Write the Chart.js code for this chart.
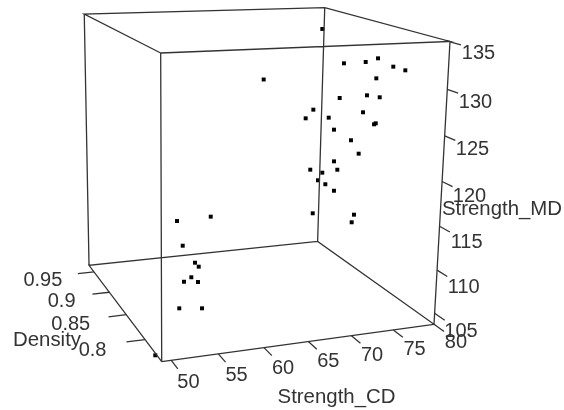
<!DOCTYPE html>
<html>
<head>
<meta charset="utf-8">
<script src="https://cdn.jsdelivr.net/npm/chart.js@4"></script>
<style>
    html, body { margin: 0; padding: 0; background: #fff; }
    canvas { display: block; }
</style>
</head>
<body>
<canvas id="chart" width="564" height="410"></canvas>
<script>
// values
var strengthCD = [66.61, 75.13, 75.95, 77.23, 78.00, 78.38, 79.08, 77.89, 76.27, 77.56, 77.64, 74.27, 73.30, 74.93, 77.14, 77.28, 77.07, 74.96, 75.74, 76.04, 74.39, 73.42, 74.85, 74.32, 73.79, 74.07, 74.51, 73.23, 75.74, 75.48, 55.80, 58.78, 56.00, 56.96, 57.40, 56.04, 55.19, 56.82, 53.70, 56.29, 48.79];
var strengthMD = [128.61, 133.78, 130.33, 130.90, 131.52, 131.03, 130.83, 129.23, 125.93, 127.01, 127.33, 124.05, 123.04, 123.63, 125.04, 124.35, 124.25, 122.49, 121.82, 120.55, 119.05, 117.01, 118.00, 116.94, 116.04, 115.91, 115.47, 111.97, 113.27, 112.37, 113.07, 114.17, 110.57, 108.93, 108.41, 107.81, 107.38, 107.16, 105.52, 105.20, 103.79];
// density cannot be read exactly from a 3d view, these are estimates
var density = [.88, .90, .87, .85, .84, .82, .81, .84, .88, .85, .83, .90, .90, .88, .85, .83, .83, .87, .85, .84, .86, .89, .86, .88, .88, .87, .86, .88, .84, .84, .87, .85, .86, .85, .85, .84, .84, .84, .82, .82, .77];

var cdTicks = [50, 55, 60, 65, 70, 75, 80];
var densityTicks = [0.8, 0.85, 0.9, 0.95];
var mdTicks = [105, 110, 115, 120, 125, 130, 135];

var cdRange = [49, 80];
var densityRange = [0.7597, 0.9675];
var mdRange = [103.7, 135.05];

// camera of the 3d box, fitted on its corners
function project(cd, d, md) {
    var u = (cd - cdRange[0]) / (cdRange[1] - cdRange[0]);
    var v = (d - densityRange[0]) / (densityRange[1] - densityRange[0]);
    var w = (md - mdRange[0]) / (mdRange[1] - mdRange[0]);
    var k = 1 + 0.094 * u + 0.239 * v - 0.064 * w;
    return {
        x: (161.7 + 313.1 * u - 51.4 * v - 11.3 * w) / k,
        y: (361.7 - 6.9 * u - 33 * v - 312.1 * w) / k
    };
}

var gap = { x: NaN, y: NaN };

// box edges
var cd0 = cdRange[0], cd1 = cdRange[1];
var d0 = densityRange[0], d1 = densityRange[1];
var md0 = mdRange[0], md1 = mdRange[1];
var boxLines = [
    project(cd0, d0, md0), project(cd1, d0, md0), project(cd1, d1, md0), project(cd0, d1, md0), project(cd0, d0, md0), gap,
    project(cd0, d0, md1), project(cd1, d0, md1), project(cd1, d1, md1), project(cd0, d1, md1), project(cd0, d0, md1), gap,
    project(cd0, d0, md0), project(cd0, d0, md1), gap,
    project(cd1, d0, md0), project(cd1, d0, md1), gap,
    project(cd1, d1, md0), project(cd1, d1, md1), gap,
    project(cd0, d1, md0), project(cd0, d1, md1)
];

// tick marks and their labels
var tickLines = [];
var tickLabels = [];

cdTicks.forEach(function (t) {
    tickLines.push(project(t, d0, md0), project(t, d0 - 0.0145, md0), gap);
    var p = project(t, d0 - 0.035, md0);
    // labels drift a little left of the projected spot towards 80
    tickLabels.push({ text: String(t), x: p.x + 1 - (t - 50) * 0.13, y: p.y + 1, align: 'center' });
});
densityTicks.forEach(function (t) {
    tickLines.push(project(cd0, t, md0), project(cd0 - 2, t, md0), gap);
    var p = project(cd0 - 5.6, t, md0);
    tickLabels.push({ text: String(t), x: p.x + 14, y: p.y + 4, align: 'right' });
});
mdTicks.forEach(function (t) {
    tickLines.push(project(cd1, d0, t), project(cd1, d0 - 0.0145, t), gap);
    var p = project(cd1, d0 - 0.035, t);
    tickLabels.push({ text: String(t), x: p.x + 1.5, y: p.y + 1 + (t - 105) * 0.1, align: 'center' });
});

var axisTitles = [
    { text: 'Strength_CD', x: 336.5, y: 397 },
    { text: 'Density', x: 47, y: 340 },
    { text: 'Strength_MD', x: 502, y: 209.5 }
];

var points = strengthCD.map(function (cd, i) {
    return project(cd, density[i], strengthMD[i]);
});

// chart.js has no text marks, so write them through the scales
var textPlugin = {
    id: 'textMarks',
    afterDatasetsDraw: function (chart) {
        var ctx = chart.ctx;
        var sx = chart.scales.x, sy = chart.scales.y;
        ctx.save();
        ctx.fillStyle = '#333';
        ctx.textBaseline = 'middle';
        ctx.font = '20px "Liberation Sans"';
        tickLabels.forEach(function (l) {
            ctx.textAlign = l.align;
            ctx.fillText(l.text, sx.getPixelForValue(l.x), sy.getPixelForValue(l.y));
        });
        ctx.font = '20.4px "Liberation Sans"';
        ctx.textAlign = 'center';
        axisTitles.forEach(function (l) {
            ctx.fillText(l.text, sx.getPixelForValue(l.x), sy.getPixelForValue(l.y));
        });
        ctx.restore();
    }
};

new Chart(document.getElementById('chart'), {
    type: 'scatter',
    data: {
        datasets: [
            { data: boxLines, showLine: true, spanGaps: false, borderColor: '#333', borderWidth: 1.3, pointRadius: 0 },
            { data: tickLines, showLine: true, spanGaps: false, borderColor: '#333', borderWidth: 1.3, pointRadius: 0 },
            { data: points, pointStyle: 'rect', pointRadius: 2.8, borderWidth: 0, backgroundColor: '#000' }
        ]
    },
    options: {
        responsive: false,
        animation: false,
        layout: { padding: 0, autoPadding: false },
        plugins: { legend: { display: false }, tooltip: { enabled: false } },
        scales: {
            x: { type: 'linear', min: 0, max: 564, display: false },
            y: { type: 'linear', min: 0, max: 410, reverse: true, display: false }
        }
    },
    plugins: [textPlugin]
});
</script>
</body>
</html>
